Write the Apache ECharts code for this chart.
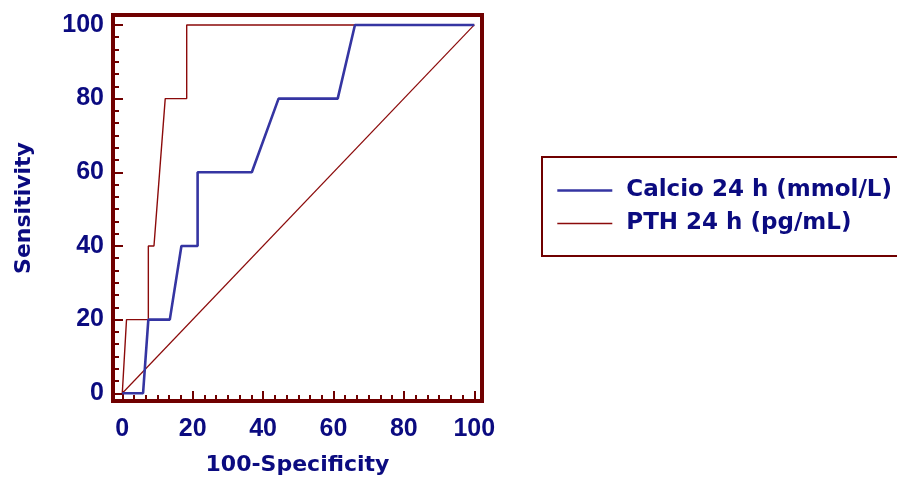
<!DOCTYPE html>
<html><head><meta charset="utf-8">
<script src="https://cdn.jsdelivr.net/npm/echarts@6/dist/echarts.min.js"></script>
<style>html,body{margin:0;padding:0;background:#fff}#c{width:897px;height:481px}</style>
</head><body><div id="c"></div>
<script>
const seriesNames = ['Calcio 24 h (mmol/L)', 'PTH 24 h (pg/mL)'];
const calcioFpr = [0, 5.9, 7.4, 13.5, 16.8, 21.4, 21.4, 36.8, 44.4, 61.2, 66.1, 100];
const calcioTpr = [0, 0, 20, 20, 40, 40, 60, 60, 80, 80, 100, 100];
const pthFpr = [0, 1.2, 7.4, 7.4, 9.0, 12.2, 18.3, 18.3, 100];
const pthTpr = [0, 20, 20, 40, 40, 80, 80, 100, 100];
const diagFpr = [0, 100];
const diagTpr = [0, 100];
const xName = '100-Specificity';
const yName = 'Sensitivity';

const NAVY = '#0b0b80';
const FRAME = '#700000';
const BLUE = '#3535a2';
const RED = '#8b0a0a';
const BLUE_W = 2.6;
const RED_W = 1.4;

const pairs = (xs, ys) => xs.map((x, i) => [x, ys[i]]);
const tickFmt = v => (Math.abs(v - Math.round(v / 20) * 20) < 1e-6 && v >= 0 && v <= 100) ? String(Math.round(v)) : '';

const labelStyle = { color: NAVY, fontFamily: 'Liberation Sans', fontWeight: 'bold', fontSize: 25, formatter: tickFmt };
const nameStyle = { color: NAVY, fontFamily: 'DejaVu Sans', fontWeight: 'bold', fontSize: 22 };

const chart = echarts.init(document.getElementById('c'), null, { renderer: 'canvas' });
chart.setOption({
  animation: false,
  backgroundColor: '#fff',
  grid: { left: 113, right: 415, top: 15, bottom: 80, show: true, borderColor: FRAME, borderWidth: 4, backgroundColor: 'transparent' },
  xAxis: {
    type: 'value', min: -2.64, max: 102.2, splitNumber: 5,
    axisLine: { show: false, onZero: false },
    axisTick: { show: true, inside: true, length: 10, lineStyle: { color: FRAME, width: 2 } },
    minorTick: { show: true, splitNumber: 6, length: 6, lineStyle: { color: FRAME, width: 2 } },
    splitLine: { show: false }, minorSplitLine: { show: false },
    axisLabel: Object.assign({ margin: 16 }, labelStyle),
    name: xName, nameLocation: 'middle', nameGap: 53, nameTextStyle: nameStyle
  },
  yAxis: {
    type: 'value', min: -2.1, max: 102.7, splitNumber: 5,
    axisLine: { show: false, onZero: false },
    axisTick: { show: true, inside: true, length: 10, lineStyle: { color: FRAME, width: 2 } },
    minorTick: { show: true, splitNumber: 6, length: 6, lineStyle: { color: FRAME, width: 2 } },
    splitLine: { show: false }, minorSplitLine: { show: false },
    axisLabel: Object.assign({ margin: 9 }, labelStyle),
    name: yName, nameLocation: 'middle', nameGap: 78, nameTextStyle: nameStyle
  },
  legend: {
    orient: 'vertical', left: 542, top: 157,
    data: [
      { name: seriesNames[0], lineStyle: { color: BLUE, width: BLUE_W } },
      { name: seriesNames[1], lineStyle: { color: RED, width: RED_W } }
    ],
    padding: [21, 30, 20, 14],
    itemWidth: 55, itemHeight: 25, itemGap: 8,
    borderColor: FRAME, borderWidth: 2,
    itemStyle: { opacity: 0 },
    textStyle: { color: NAVY, fontFamily: 'DejaVu Sans', fontWeight: 'bold', fontSize: 23, lineHeight: 25, padding: [0, 0, 0, 9] }
  },
  series: [
    { name: 'diag', type: 'line', data: pairs(diagFpr, diagTpr), symbol: 'none', lineStyle: { color: RED, width: 1.2 }, silent: true, z: 1 },
    { name: seriesNames[1], type: 'line', data: pairs(pthFpr, pthTpr), symbol: 'none', color: RED, lineStyle: { color: RED, width: RED_W }, z: 2 },
    { name: seriesNames[0], type: 'line', data: pairs(calcioFpr, calcioTpr), symbol: 'none', color: BLUE, lineStyle: { color: BLUE, width: BLUE_W }, z: 3 }
  ]
});
</script>
</body></html>
